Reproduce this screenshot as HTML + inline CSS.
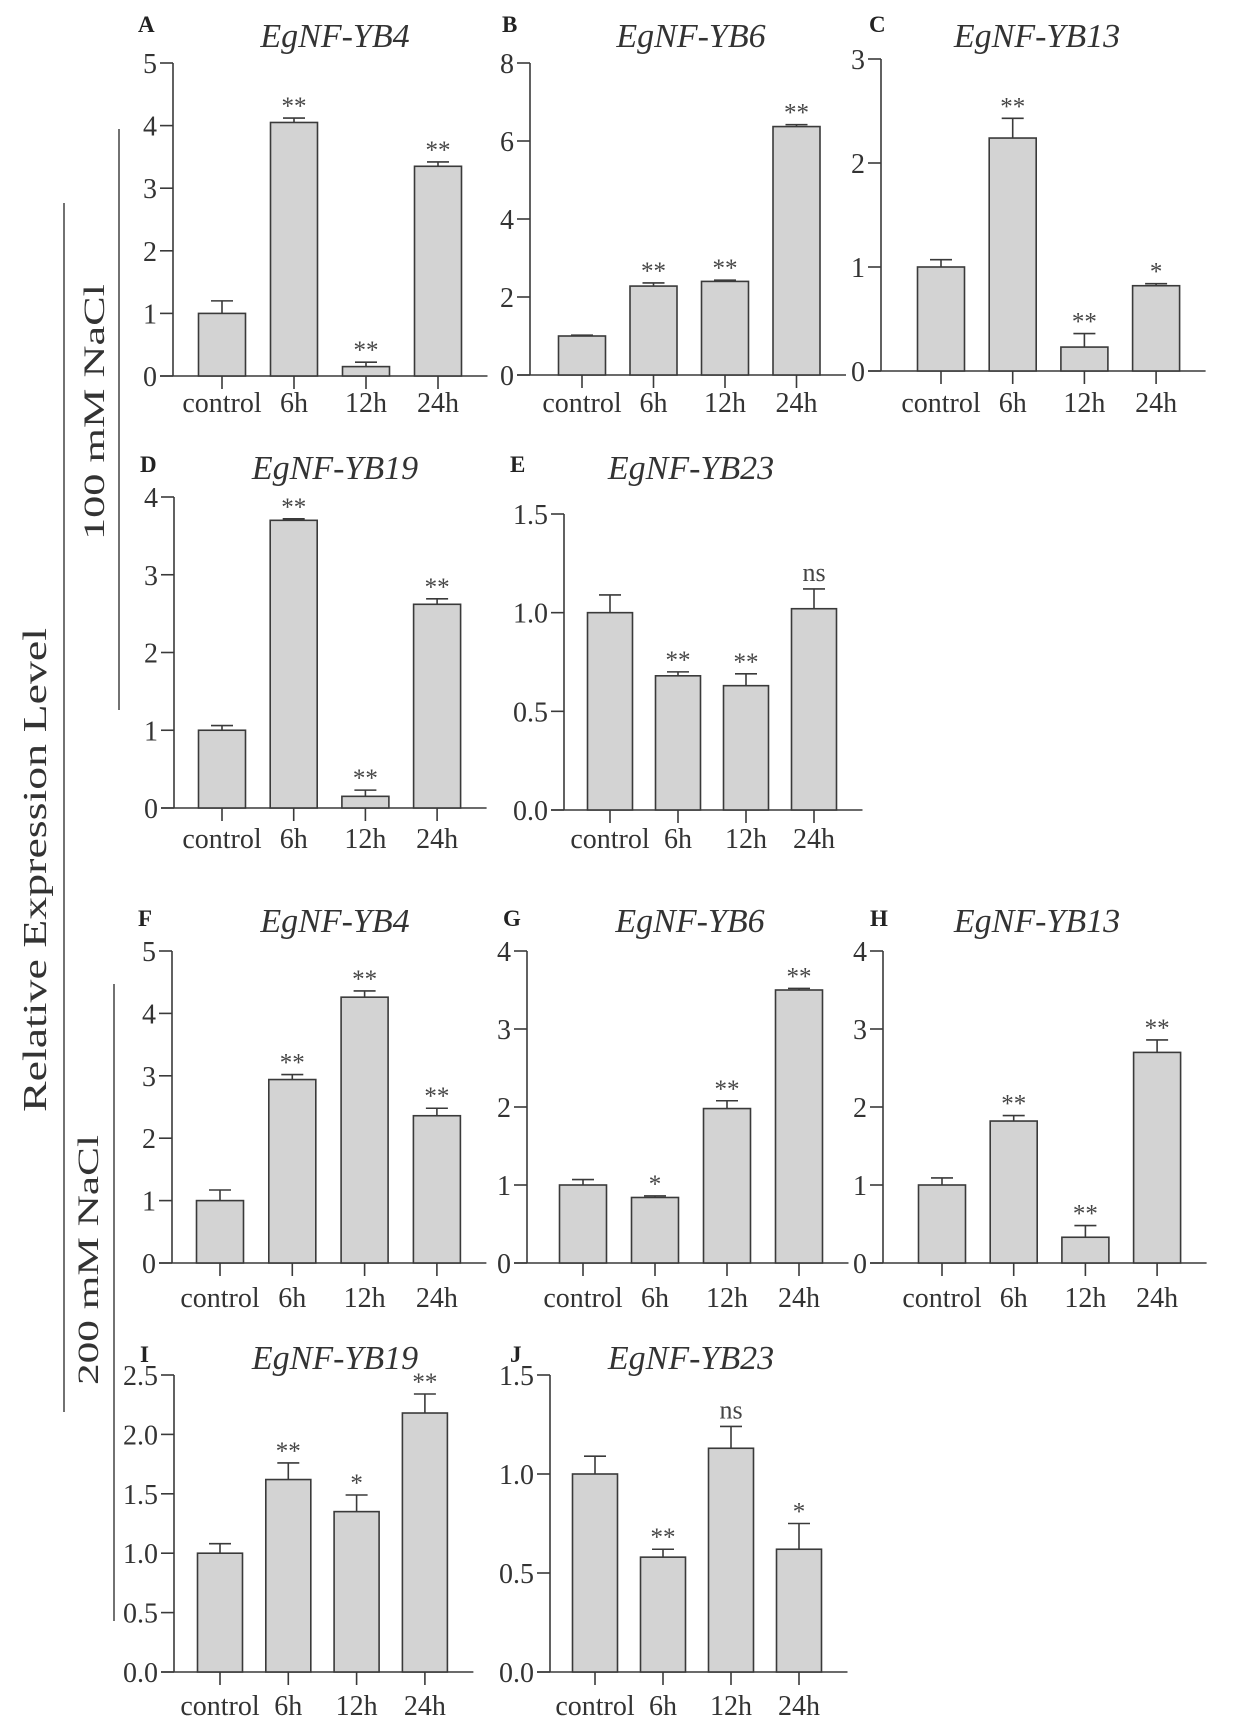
<!DOCTYPE html>
<html><head><meta charset="utf-8"><style>
html,body{margin:0;padding:0;background:#fff}
svg{display:block}
svg text{font-family:"Liberation Serif","DejaVu Serif",serif}
</style></head><body>
<svg id="fig" width="1235" height="1729" viewBox="0 0 1235 1729" xmlns="http://www.w3.org/2000/svg" font-family="Liberation Serif, serif">
<g fill="#333">
<line x1="64" y1="203" x2="64" y2="1412" stroke="#444" stroke-width="1.5"/>
<line x1="119" y1="129" x2="119" y2="710" stroke="#444" stroke-width="1.5"/>
<line x1="114" y1="984" x2="114" y2="1621" stroke="#444" stroke-width="1.5"/>
<text font-family="Liberation Serif, serif" transform="translate(46,870) rotate(-90)" text-anchor="middle" font-size="34" textLength="484" lengthAdjust="spacingAndGlyphs">Relative Expression Level</text>
<text font-family="Liberation Serif, serif" transform="translate(104,412) rotate(-90)" text-anchor="middle" font-size="30" textLength="256" lengthAdjust="spacingAndGlyphs">100 mM NaCl</text>
<text font-family="Liberation Serif, serif" transform="translate(98,1260) rotate(-90)" text-anchor="middle" font-size="30" textLength="250" lengthAdjust="spacingAndGlyphs">200 mM NaCl</text>
</g>
</svg>
<script>
const categories = ["control","6h","12h","24h"];
const valsA=[1.0,4.05,0.15,3.35], errA=[0.2,0.07,0.07,0.07], sigA=["","**","**","**"];
const valsB=[1.0,2.28,2.4,6.37], errB=[0.02,0.08,0.03,0.05], sigB=["","**","**","**"];
const valsC=[1.0,2.24,0.23,0.82], errC=[0.07,0.19,0.13,0.02], sigC=["","**","**","*"];
const valsD=[1.0,3.7,0.15,2.62], errD=[0.06,0.02,0.08,0.07], sigD=["","**","**","**"];
const valsE=[1.0,0.68,0.63,1.02], errE=[0.09,0.02,0.06,0.1], sigE=["","**","**","ns"];
const valsF=[1.0,2.94,4.26,2.36], errF=[0.17,0.08,0.1,0.12], sigF=["","**","**","**"];
const valsG=[1.0,0.84,1.98,3.5], errG=[0.07,0.02,0.1,0.02], sigG=["","*","**","**"];
const valsH=[1.0,1.82,0.33,2.7], errH=[0.09,0.07,0.15,0.16], sigH=["","**","**","**"];
const valsI=[1.0,1.62,1.35,2.18], errI=[0.08,0.14,0.14,0.16], sigI=["","**","*","**"];
const valsJ=[1.0,0.58,1.13,0.62], errJ=[0.09,0.04,0.11,0.13], sigJ=["","**","ns","*"];
const ticksInt5=["0","1","2","3","4","5"], ticks8=["0","2","4","6","8"], ticks3=["0","1","2","3"], ticks4=["0","1","2","3","4"];
const ticks15=["0.0","0.5","1.0","1.5"], ticks25=["0.0","0.5","1.0","1.5","2.0","2.5"];

const NS="http://www.w3.org/2000/svg";
const svg=document.getElementById('fig');
function mk(tag,attrs,parent,text){const e=document.createElementNS(NS,tag);for(const k in attrs)e.setAttribute(k,attrs[k]);if(tag==='text')e.setAttribute('font-family','Liberation Serif, serif');if(text!==undefined)e.textContent=text;parent.appendChild(e);return e;}

const panels=[
 {id:"A",title:"EgNF-YB4",ax:173,top:63,base:376,c0:222,step:72,bw:47,ticks:ticksInt5,vals:valsA,err:errA,sig:sigA,tx:335,ty:47,lx:138,ly:32,xl:412},
 {id:"B",title:"EgNF-YB6",ax:530,top:63,base:375,c0:582,step:71.5,bw:47,ticks:ticks8,vals:valsB,err:errB,sig:sigB,tx:691,ty:47,lx:502,ly:32,xl:412},
 {id:"C",title:"EgNF-YB13",ax:881,top:59,base:371,c0:941,step:71.7,bw:47,ticks:ticks3,vals:valsC,err:errC,sig:sigC,tx:1037,ty:47,lx:869,ly:32,xl:412},
 {id:"D",title:"EgNF-YB19",ax:174,top:497,base:808,c0:222,step:71.7,bw:47,ticks:ticks4,vals:valsD,err:errD,sig:sigD,tx:335,ty:479,lx:140,ly:472,xl:848},
 {id:"E",title:"EgNF-YB23",ax:564,top:514,base:810,c0:610,step:68,bw:45,ticks:ticks15,vals:valsE,err:errE,sig:sigE,tx:691,ty:479,lx:510,ly:472,xl:848},
 {id:"F",title:"EgNF-YB4",ax:172,top:951,base:1263,c0:220,step:72.3,bw:47,ticks:ticksInt5,vals:valsF,err:errF,sig:sigF,tx:335,ty:932,lx:138,ly:926,xl:1307},
 {id:"G",title:"EgNF-YB6",ax:527,top:951,base:1263,c0:583,step:72,bw:47,ticks:ticks4,vals:valsG,err:errG,sig:sigG,tx:690,ty:932,lx:503,ly:926,xl:1307},
 {id:"H",title:"EgNF-YB13",ax:883,top:951,base:1263,c0:942,step:71.7,bw:47,ticks:ticks4,vals:valsH,err:errH,sig:sigH,tx:1037,ty:932,lx:870,ly:926,xl:1307},
 {id:"I",title:"EgNF-YB19",ax:174,top:1375,base:1672,c0:220,step:68.3,bw:45,ticks:ticks25,vals:valsI,err:errI,sig:sigI,tx:335,ty:1369,lx:140,ly:1362,xl:1715},
 {id:"J",title:"EgNF-YB23",ax:550,top:1375,base:1672,c0:595,step:68,bw:45,ticks:ticks15,vals:valsJ,err:errJ,sig:sigJ,tx:691,ty:1369,lx:510,ly:1362,xl:1715}
];

panels.forEach(p=>{
  const g=mk('g',{},svg);
  
  
  const tmax=parseFloat(p.ticks[p.ticks.length-1]);
  const y=v=>p.base-(v/tmax)*(p.base-p.top);
  const x=i=>p.c0+i*p.step;
  const col="#3a3a3a";
  const lt=mk('text',{x:p.lx,y:p.ly,'font-size':23,'font-weight':'bold',fill:'#222'},g,p.id);
  
  
  const tt=mk('text',{x:p.tx,y:p.ty,'font-size':34,'font-style':'italic','text-anchor':'middle',fill:'#333'},g,p.title);
  
  
  const ya=mk('line',{x1:p.ax,y1:p.top,x2:p.ax,y2:p.base,stroke:col,'stroke-width':1.6},g);
  
  
  p.ticks.forEach(t=>{
    const v=parseFloat(t), yy=y(v);
    mk('line',{x1:p.ax-13,y1:yy,x2:p.ax,y2:yy,stroke:col,'stroke-width':1.6},g);
    const tl=mk('text',{x:p.ax-16,y:yy+10,'font-size':28,'text-anchor':'end',fill:'#333'},g,t);
    
    
  });
  const xEnd=x(3)+p.bw/2+26;
  const xa=mk('line',{x1:p.ax-13,y1:p.base,x2:xEnd,y2:p.base,stroke:col,'stroke-width':1.6},g);
  
  
  categories.forEach((c,i)=>{
    const cx=x(i), v=p.vals[i], e=p.err[i];
    const r=mk('rect',{x:cx-p.bw/2,y:y(v),width:p.bw,height:p.base-y(v),fill:'#d3d3d3',stroke:col,'stroke-width':1.6},g);
    
    
    mk('line',{x1:cx,y1:y(v),x2:cx,y2:y(v+e),stroke:col,'stroke-width':1.6},g);
    mk('line',{x1:cx-11,y1:y(v+e),x2:cx+11,y2:y(v+e),stroke:col,'stroke-width':1.6},g);
    mk('line',{x1:cx,y1:p.base,x2:cx,y2:p.base+13,stroke:col,'stroke-width':1.6},g);
    const xl=mk('text',{x:cx,y:p.xl,'font-size':28,'text-anchor':'middle',fill:'#333'},g,c);
    
    
    if(p.sig[i]){
      const isNs=p.sig[i]==="ns";
      const s=mk('text',{x:cx,y:y(v+e)-(isNs?8:4),'font-size':isNs?26:25,'text-anchor':'middle',fill:'#444'},g,p.sig[i]);
      
      
    }
  });
});
</script>
</body></html>
